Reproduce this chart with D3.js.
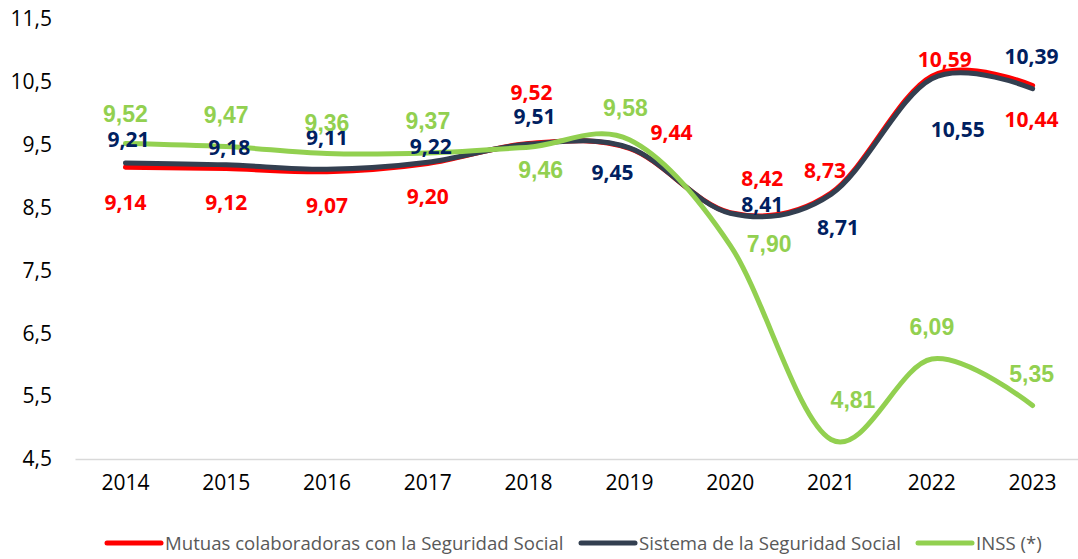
<html>
<head>
<script src="https://d3js.org/d3.v7.min.js"></script>
<style>
body { margin: 0; background: #fff; }
svg text { font-family: "Open Sans", "Noto Sans", sans-serif; }
.axis text { font-size: 21px; fill: #000; }
.legend text { font-size: 18.6px; fill: #595959; }
.lbl { font-weight: bold; font-size: 21px; text-anchor: middle; }
.lbl.inss { font-family: "Liberation Sans", Arial, sans-serif; font-size: 23px; }
</style>
</head>
<body>
<svg id="chart"></svg>
<script>
// data
var years = ['2014','2015','2016','2017','2018','2019','2020','2021','2022','2023'];
var mutuas  = [9.14, 9.12, 9.07, 9.20, 9.52, 9.44, 8.42, 8.73, 10.59, 10.44];
var sistema = [9.21, 9.18, 9.11, 9.22, 9.51, 9.45, 8.41, 8.71, 10.55, 10.39];
var inss    = [9.52, 9.47, 9.36, 9.37, 9.46, 9.58, 7.90, 4.81, 6.09, 5.35];
var yTicks  = [4.5, 5.5, 6.5, 7.5, 8.5, 9.5, 10.5, 11.5];
var names   = ['Mutuas colaboradoras con la Seguridad Social', 'Sistema de la Seguridad Social', 'INSS (*)'];

// label placement (px offsets from the point), hand tuned like the original
var offMutuas  = [[0,35],[0,34],[0,34],[0,33],[3,-51],[42,-16],[32,-34],[-6,-23],[13,-17],[-1,34]];
var offSistema = [[3,-24],[3,-17],[0,-32],[3,-16],[6,-28],[-17,25],[32,-9],[7,33],[26,51],[-1,-32]];
var offInss    = [[0,-30],[0,-32],[0,-31],[0,-32],[12,22],[-4,-32],[39,-2],[22,-40],[0,-32],[-1,-32]];

var W = 1078, H = 559;
var svg = d3.select('#chart').attr('width', W).attr('height', H);

var x = d3.scaleBand().domain(years).range([75, 1083]);
var y = d3.scaleLinear().domain([4.5, 11.5]).range([459, 19]);
var cx = function(i) { return x(years[i]) + x.bandwidth()/2; };
var fmt = function(v, d) { return v.toFixed(d).replace('.', ','); };

// axes
var xAxis = svg.append('g').attr('class','axis')
	.attr('transform','translate(0,459)')
	.call(d3.axisBottom(x).tickSize(0).tickPadding(16));
xAxis.select('.domain').attr('stroke','#D9D9D9').attr('stroke-width',1.5);

var yAxis = svg.append('g').attr('class','axis')
	.attr('transform','translate(62,0)')
	.call(d3.axisLeft(y).tickValues(yTicks).tickSize(0).tickPadding(10)
		.tickFormat(function(d) { return fmt(d,1); }));
yAxis.select('.domain').remove();

// lines
var series = [
	{ key:'mutuas',  vals: mutuas,  color:'#FF0000', text:'#FF0000', off: offMutuas },
	{ key:'sistema', vals: sistema, color:'#333F50', text:'#002060', off: offSistema },
	{ key:'inss',    vals: inss,    color:'#92D050', text:'#92D050', off: offInss }
];

var line = d3.line()
	.x(function(d,i) { return cx(i); })
	.y(function(d) { return y(d); })
	.curve(d3.curveCardinal.tension(0));

series.forEach(function(s) {
	svg.append('path')
		.datum(s.vals)
		.attr('d', line)
		.attr('fill','none')
		.attr('stroke', s.color)
		.attr('stroke-width', 5)
		.attr('stroke-linecap','round');
});

// data labels
series.forEach(function(s) {
	svg.append('g').selectAll('text')
		.data(s.vals)
		.enter().append('text')
		.attr('class', 'lbl ' + s.key)
		.attr('x', function(d,i) { return cx(i) + s.off[i][0]; })
		.attr('y', function(d,i) { return y(d) + s.off[i][1]; })
		.attr('dy','0.36em')
		.attr('fill', s.text)
		.text(function(d) { return fmt(d,2); });
});

// legend
var legX = [107, 581, 918];
var leg = svg.append('g').attr('class','legend');
series.forEach(function(s, i) {
	leg.append('line')
		.attr('x1', legX[i]).attr('x2', legX[i] + 54)
		.attr('y1', 543).attr('y2', 543)
		.attr('stroke', s.color).attr('stroke-width', 5)
		.attr('stroke-linecap','round');
	leg.append('text')
		.attr('x', legX[i] + 58).attr('y', 543)
		.attr('dy','0.35em')
		.text(names[i]);
});
</script>
</body>
</html>
